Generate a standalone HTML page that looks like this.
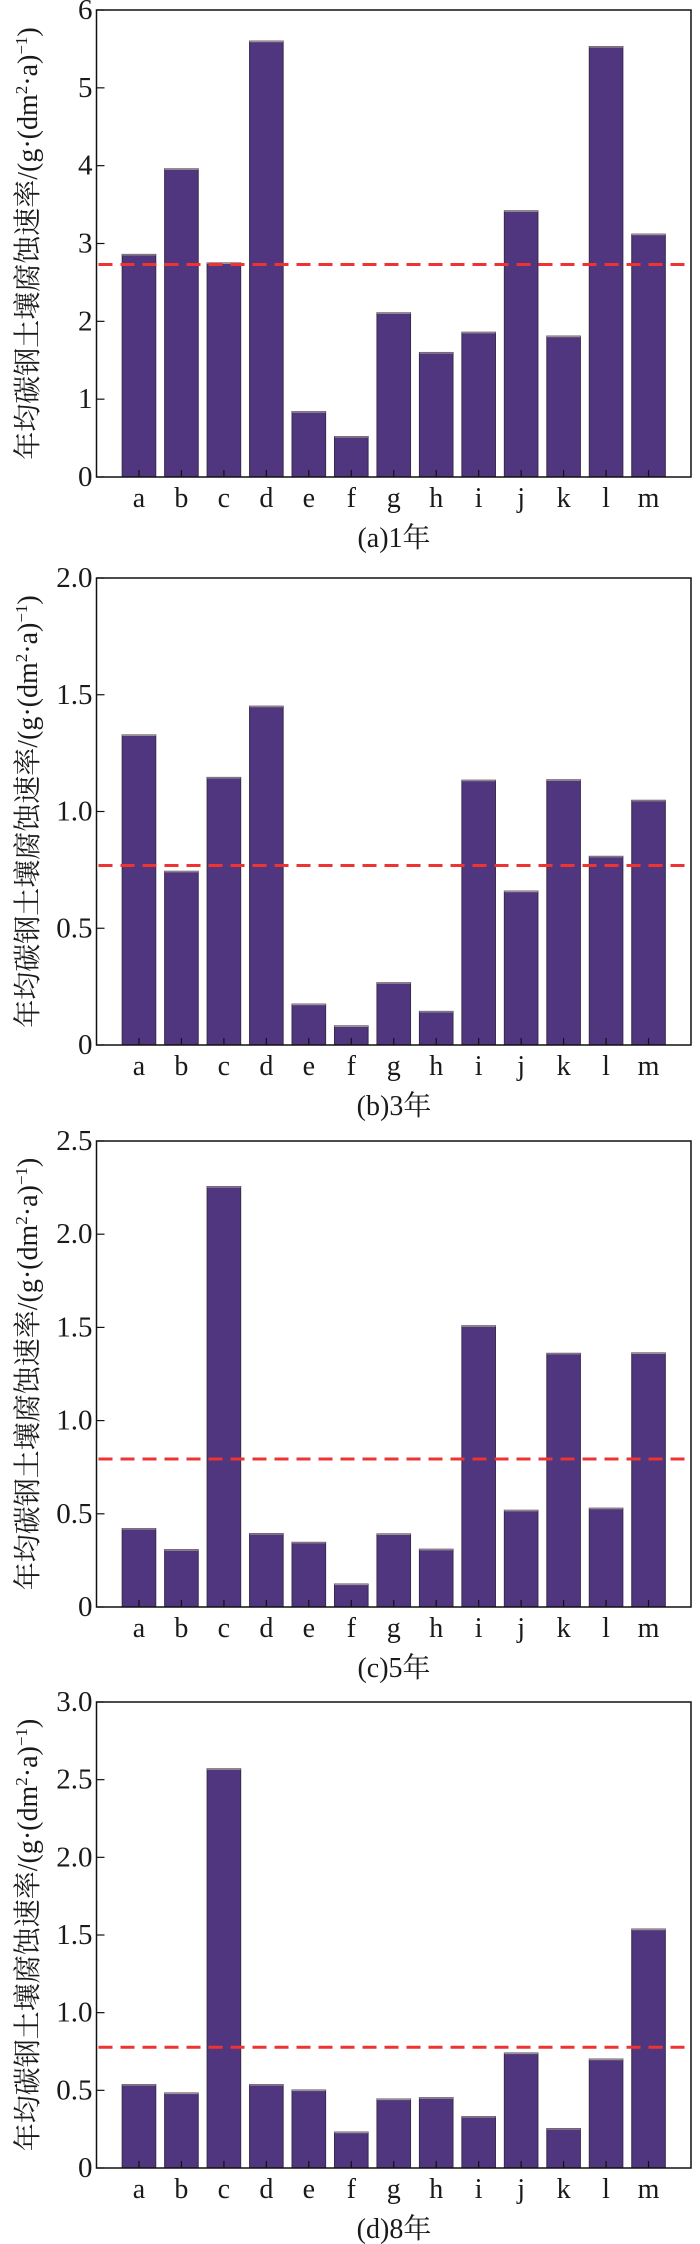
<!DOCTYPE html>
<html><head><meta charset="utf-8"><style>
html,body{margin:0;padding:0;background:#fff;}
svg{display:block;}
text{font-family:"Liberation Serif","Noto Serif CJK SC",serif;fill:#1a1a1a;}
</style></head><body>
<svg id="fig" width="700" height="2244" viewBox="0 0 700 2244" xmlns="http://www.w3.org/2000/svg"></svg>
<script>
const categories = ["a","b","c","d","e","f","g","h","i","j","k","l","m"];
const valuesA = [2.86,3.96,2.75,5.60,0.84,0.52,2.11,1.60,1.86,3.42,1.81,5.53,3.12];
const valuesB = [1.328,0.744,1.146,1.451,0.175,0.082,0.267,0.144,1.134,0.659,1.136,0.808,1.048];
const valuesC = [0.421,0.308,2.256,0.394,0.347,0.123,0.392,0.310,1.509,0.519,1.361,0.530,1.363];
const valuesD = [0.537,0.483,2.570,0.537,0.502,0.231,0.444,0.453,0.331,0.740,0.254,0.701,1.538];
const averages = [2.73,0.769,0.794,0.777];
const yMaxes = [6,2.0,2.5,3.0];
const tickLabelsA = ["0","1","2","3","4","5","6"];
const tickLabelsB = ["0","0.5","1.0","1.5","2.0"];
const tickLabelsC = ["0","0.5","1.0","1.5","2.0","2.5"];
const tickLabelsD = ["0","0.5","1.0","1.5","2.0","2.5","3.0"];
const captions = ["(a)1年","(b)3年","(c)5年","(d)8年"];

const NS="http://www.w3.org/2000/svg";
const svg=document.getElementById('fig');
function mk(tag,attrs,parent){const e=document.createElementNS(NS,tag);for(const k in attrs)e.setAttribute(k,attrs[k]);(parent||svg).appendChild(e);return e;}

const panels=[
 {vals:valuesA,ticks:tickLabelsA,top:10,bottom:477},
 {vals:valuesB,ticks:tickLabelsB,top:578,bottom:1045},
 {vals:valuesC,ticks:tickLabelsC,top:1141,bottom:1607},
 {vals:valuesD,ticks:tickLabelsD,top:1702,bottom:2168}
];
const L=96.5,R=691;
panels.forEach((p,pi)=>{
  const g=mk('g',{});
  
  
  const ymax=yMaxes[pi];
  const y=v=>p.bottom-(v/ymax)*(p.bottom-p.top);
  const band=(R-L)/(categories.length+1);
  const x=i=>L+band*(i+1);
  const bw=33.6;
  p.vals.forEach((v,i)=>{
    const r=mk('rect',{x:x(i)-bw/2,y:y(v),width:bw,height:p.bottom-y(v),fill:'#50357f',stroke:'#3a2a4a','stroke-width':1},g);
    
    
    const t=mk('line',{x1:x(i)-bw/2,x2:x(i)+bw/2,y1:y(v)+0.5,y2:y(v)+0.5,stroke:'#9a9090','stroke-width':1.2},g);
    
    
    const tk=mk('line',{x1:x(i),x2:x(i),y1:p.bottom,y2:p.bottom-7,stroke:'#111','stroke-width':1.2},g);
    
    
    const lb=mk('text',{x:x(i),y:p.bottom+30,'font-size':28,'text-anchor':'middle'},g);
    lb.textContent=categories[i];
    
    
  });
  const step=ymax/(p.ticks.length-1);
  p.ticks.forEach((s,k)=>{
    const yy=y(k*step);
    const tk=mk('line',{x1:L,x2:L+8,y1:yy,y2:yy,stroke:'#111','stroke-width':1.2},g);
    
    
    const lb=mk('text',{x:L-4,y:yy+9,'font-size':29,'text-anchor':'end'},g);
    lb.textContent=s;
    
    
  });
  const av=mk('line',{x1:L+2,x2:R,y1:y(averages[pi]),y2:y(averages[pi]),stroke:'#ee3333','stroke-width':3,'stroke-dasharray':'14 8'},g);
  
  
  const fr=mk('rect',{x:L,y:p.top,width:R-L,height:p.bottom-p.top,fill:'none',stroke:'#111','stroke-width':1.5},g);
  
  
  const cy=(p.top+p.bottom)/2;
  const yt=mk('text',{x:0,y:0,'font-size':28,'text-anchor':'middle',transform:'translate(37,'+cy+') rotate(-90)'},g);
  yt.innerHTML='年均碳钢土壤腐蚀速率/(g·(dm<tspan font-size="17" dy="-10">2</tspan><tspan dy="10">·a)</tspan><tspan font-size="17" dy="-10">−1</tspan><tspan dy="10">)</tspan>';
  
  
  const cap=mk('text',{x:394,y:p.bottom+70,'font-size':28,'text-anchor':'middle'},g);
  cap.textContent=captions[pi];
  
  
});
</script>
</body></html>
